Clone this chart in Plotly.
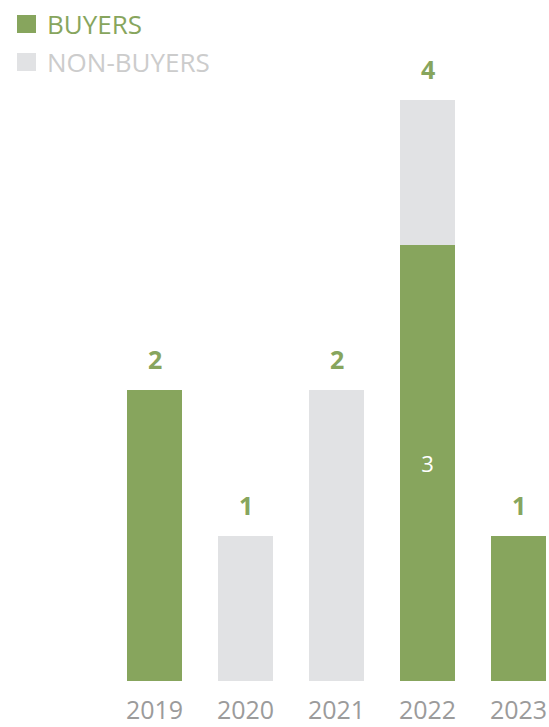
import plotly.graph_objects as go

years = ["2019", "2020", "2021", "2022", "2023"]
buyers = [2, 0, 0, 3, 1]
non_buyers = [0, 1, 2, 1, 0]
totals = [b + n for b, n in zip(buyers, non_buyers)]

GREEN = "#87A55D"
GRAY = "#E1E2E4"
FONT = "Open Sans"

buyer_text = ["" if (b == 0 or n == 0) else str(b) for b, n in zip(buyers, non_buyers)]

fig = go.Figure()
fig.add_trace(go.Bar(
    x=years, y=buyers, marker=dict(color=GREEN, line=dict(width=0)),
    text=buyer_text, textposition="inside", insidetextanchor="middle",
    textfont=dict(family=FONT, size=22, color="white"), name="BUYERS",
    showlegend=False, hoverinfo="skip",
))
fig.add_trace(go.Bar(
    x=years, y=non_buyers, marker=dict(color=GRAY, line=dict(width=0)),
    name="NON-BUYERS", showlegend=False, hoverinfo="skip",
))

for i, t in enumerate(totals):
    fig.add_annotation(x=i, y=t, xref="x", yref="y", text=f"<b>{t}</b>", showarrow=False,
                       yanchor="bottom", yshift=12,
                       font=dict(family=FONT, size=25, color=GREEN))

# custom legend
legend_items = [("BUYERS", GREEN, GREEN, 24), ("NON-BUYERS", GRAY, "#CCCCCC", 62)]
for label, sq, tc, cy in legend_items:
    fig.add_shape(type="rect", xref="paper", yref="paper",
                  x0=17 / 549, x1=36 / 549,
                  y0=1 - (cy + 9) / 681, y1=1 - (cy - 9) / 681,
                  fillcolor=sq, line=dict(width=0))
    fig.add_annotation(xref="paper", yref="paper", x=45 / 549, y=1 - cy / 681,
                       text=label, showarrow=False, xanchor="left", yanchor="middle",
                       font=dict(family=FONT, size=26, color=tc))

fig.update_layout(
    barmode="stack", bargap=0.396,
    width=549, height=727,
    margin=dict(l=0, r=0, t=0, b=46, pad=0, autoexpand=False),
    paper_bgcolor="white", plot_bgcolor="white",
    font=dict(family=FONT),
    xaxis=dict(type="category", range=[-1.698, 4.335], showgrid=False, zeroline=False,
               showline=False, ticks="outside", ticklen=7, tickcolor="rgba(0,0,0,0)",
               automargin=False,
               tickfont=dict(family=FONT, size=25, color="#9B9B9B")),
    yaxis=dict(range=[0, 4.687], visible=False, automargin=False),
)

fig.write_html("out.html")
